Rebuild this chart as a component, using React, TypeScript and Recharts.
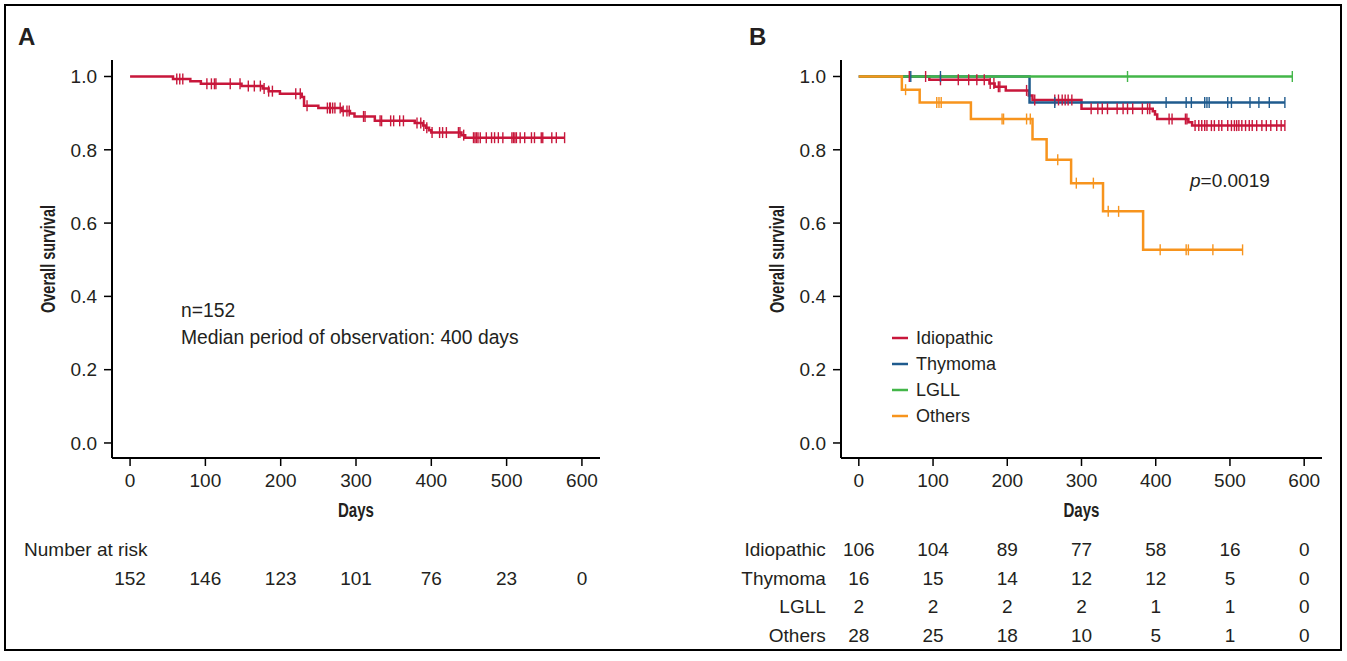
import React from 'react'
import { LineChart, Line, XAxis, YAxis, Legend, Label } from 'recharts'

const FONT = '"Liberation Sans", Arial, Helvetica, sans-serif'
const INK = '#231f20'

const dayTicks = [0, 100, 200, 300, 400, 500, 600]
const survivalTicks = [0, 0.2, 0.4, 0.6, 0.8, 1.0]

// Panel A: whole cohort, [day, survival after the event]
const cohortSteps = [
  [0, 1.0], [57, 0.993], [80, 0.987], [94, 0.98], [148, 0.974], [176, 0.967], [184, 0.96],
  [199, 0.953], [228, 0.944], [231, 0.92], [250, 0.914], [281, 0.906], [292, 0.899],
  [298, 0.891], [325, 0.879], [378, 0.873], [389, 0.866], [393, 0.86], [397, 0.853],
  [400, 0.847], [440, 0.84], [445, 0.833],
]
const cohortCensored = [
  62, 66, 70, 102, 108, 112, 114, 133, 146, 157, 165, 173, 178, 184, 189, 220, 226, 235,
  262, 265, 266, 269, 272, 279, 283, 288, 291, 310, 312, 332, 334, 346, 350, 358, 363,
  381, 386, 390, 394, 401, 411, 415, 420, 436, 438, 443, 456, 458, 460, 462, 465, 473,
  480, 484, 489, 495, 507, 509, 511, 513, 518, 524, 533, 537, 546, 548, 560, 566, 577,
]
const cohortAtRisk = [152, 146, 123, 101, 76, 23, 0]

// Panel B: by underlying disease
const groupNames = ['Idiopathic', 'Thymoma', 'LGLL', 'Others']
const groupColors = ['#c8173b', '#1f5b8e', '#43b649', '#f7941d']

const idiopathicSteps = [
  [0, 1.0], [95, 0.991], [176, 0.981], [183, 0.972], [198, 0.962], [229, 0.948], [234, 0.936],
  [300, 0.912], [396, 0.905], [399, 0.896], [402, 0.884], [444, 0.875], [449, 0.866],
]
const idiopathicCensored = [
  68, 90, 110, 134, 148, 159, 169, 177, 182, 188, 190, 226, 237, 264, 269, 274, 278, 282,
  287, 313, 322, 328, 335, 348, 356, 362, 369, 382, 389, 392, 418, 422, 440, 442, 453,
  458, 462, 466, 469, 475, 479, 485, 489, 497, 502, 506, 509, 512, 516, 521, 526, 530,
  536, 543, 549, 555, 563, 569, 574,
]
const thymomaSteps = [[0, 1.0], [230, 0.929]]
const thymomaCensored = [70, 110, 264, 414, 441, 448, 466, 469, 472, 497, 502, 527, 539, 553, 574]
const lgllSteps = [[0, 1.0]]
const lgllCensored = [362, 584]
const othersSteps = [
  [0, 1.0], [58, 0.964], [82, 0.929], [151, 0.884], [234, 0.829], [253, 0.773],
  [286, 0.709], [329, 0.632], [383, 0.527],
]
const othersCensored = [
  63, 105, 108, 111, 193, 195, 226, 231, 268, 293, 316, 336, 350, 406, 441, 444, 477, 517,
]

const idiopathicAtRisk = [106, 104, 89, 77, 58, 16, 0]
const thymomaAtRisk = [16, 15, 14, 12, 12, 5, 0]
const lgllAtRisk = [2, 2, 2, 2, 1, 1, 0]
const othersAtRisk = [28, 25, 18, 10, 5, 1, 0]

type Pt = { t: number; s: number; c: number }

// merge events and censoring times into one step series
const buildCurve = (steps: number[][], censored: number[]): Pt[] => {
  const pts: Pt[] = steps.map(([t, s]) => ({ t, s, c: 0 }))
  censored.forEach((t) => {
    const level = steps.filter(([st]) => st <= t).pop()![1]
    pts.push({ t, s: level, c: 1 })
  })
  return pts.sort((a, b) => a.t - b.t || a.c - b.c)
}

const riskRows = (counts: number[]) => dayTicks.map((t, i) => ({ t, n: counts[i] }))

const cohortCurve = buildCurve(cohortSteps, cohortCensored)
const groupCurves = [
  buildCurve(idiopathicSteps, idiopathicCensored),
  buildCurve(thymomaSteps, thymomaCensored),
  buildCurve(lgllSteps, lgllCensored),
  buildCurve(othersSteps, othersCensored),
]
const groupAtRisk = [idiopathicAtRisk, thymomaAtRisk, lgllAtRisk, othersAtRisk]

const DAY_DOMAIN: [number, number] = [-24, 624]
const SURV_DOMAIN: [number, number] = [-0.041, 1.045]

const censorMark = (color: string) => (props: any) => {
  const { cx, cy, payload, index } = props
  if (!payload || !payload.c) return <g key={`n-${index}`} />
  return (
    <line key={`c-${index}`} x1={cx} x2={cx} y1={cy - 5.5} y2={cy + 5.5} stroke={color} strokeWidth={1.4} />
  )
}

const riskTick = (counts: number[], rowLabel: string, labelDx: number, anchor: 'start' | 'end', dy: number, labelDy = dy) =>
  (props: any) => {
    const { x, y, payload } = props
    const i = dayTicks.indexOf(payload.value)
    return (
      <g fontFamily={FONT} fontSize={19} fill={INK}>
        {i === 0 && (
          <text x={x + labelDx} y={y + labelDy} textAnchor={anchor} fill={INK}>{rowLabel}</text>
        )}
        <text x={x} y={y + dy} textAnchor="middle" fill={INK}>{counts[i]}</text>
      </g>
    )
  }

const yTitle = (p: any) => {
  const vb = p.viewBox
  const cx = vb.x + 55
  const cy = vb.y + vb.height / 2
  return (
    <text
      transform={`translate(${cx},${cy}) rotate(-90)`}
      textAnchor="middle"
      fontFamily={FONT}
      fontWeight="bold"
      fontSize={19.5}
      fill={INK}
      textLength={108}
      lengthAdjust="spacingAndGlyphs"
    >
      Overall survival
    </text>
  )
}

const xTitle = (p: any) => {
  const vb = p.viewBox
  return (
    <text
      x={vb.x + vb.width / 2}
      y={vb.y + 59}
      textAnchor="middle"
      fontFamily={FONT}
      fontWeight="bold"
      fontSize={19.5}
      fill={INK}
      textLength={36}
      lengthAdjust="spacingAndGlyphs"
    >
      Days
    </text>
  )
}

const LegendRows = (props: any) => {
  const items = (props.payload || [])
    .filter((entry: any) => groupNames.includes(entry.value))
    .sort((a: any, b: any) => groupNames.indexOf(a.value) - groupNames.indexOf(b.value))
  return (
    <div>
      {items.map((entry: any) => (
        <div key={entry.value} style={{ display: 'flex', alignItems: 'center', height: 26 }}>
          <svg width={16} height={4}>
            <line x1={0} x2={16} y1={2} y2={2} stroke={entry.color} strokeWidth={2.5} />
          </svg>
          <span style={{ marginLeft: 8, fontSize: 18, fontFamily: FONT, color: INK }}>{entry.value}</span>
        </div>
      ))}
    </div>
  )
}

const axisLine = { stroke: '#000', strokeWidth: 2 }
const tickLine = { stroke: '#000', strokeWidth: 1.5 }
const tickText = { fill: INK, fontSize: 19, fontFamily: FONT }

const App: React.FC = () => {
  return (
    <div style={{ position: 'absolute', left: 0, top: 0, width: 1347, height: 661, background: '#fff' }}>
      {/* A: overall cohort */}
      <div style={{ position: 'absolute', left: 0, top: 0 }}>
        <LineChart width={640} height={661} margin={{ top: 60, right: 40, bottom: 0, left: 0 }}>
          <XAxis
            dataKey="t"
            type="number"
            domain={DAY_DOMAIN}
            ticks={dayTicks}
            interval={0}
            allowDataOverflow
            axisLine={axisLine}
            tickLine={tickLine}
            tickSize={8}
            tickMargin={8}
            tick={tickText}
            height={80}
          >
            <Label content={xTitle} />
          </XAxis>
          <XAxis
            xAxisId="riskA"
            dataKey="t"
            type="number"
            domain={DAY_DOMAIN}
            ticks={dayTicks}
            interval={0}
            allowDataOverflow
            axisLine={false}
            tickLine={false}
            tickSize={0}
            tickMargin={0}
            height={123}
            tick={riskTick(cohortAtRisk, 'Number at risk', -106, 'start', 47, 18)}
          />
          <YAxis
            type="number"
            domain={SURV_DOMAIN}
            ticks={survivalTicks}
            interval={0}
            allowDataOverflow
            tickFormatter={(v: number) => v.toFixed(1)}
            axisLine={axisLine}
            tickLine={tickLine}
            tickSize={8}
            tickMargin={7}
            tick={tickText}
            width={112}
          >
            <Label content={yTitle} />
          </YAxis>
          <Line
            data={cohortCurve}
            dataKey="s"
            type="stepAfter"
            stroke={groupColors[0]}
            strokeWidth={2.5}
            dot={censorMark(groupColors[0])}
            activeDot={false}
            isAnimationActive={false}
          />
          {/* invisible series that carries the number-at-risk axis */}
          <Line
            xAxisId="riskA"
            data={riskRows(cohortAtRisk)}
            dataKey="n"
            stroke="none"
            dot={false}
            activeDot={false}
            legendType="none"
            isAnimationActive={false}
          />
        </LineChart>
      </div>

      {/* B: by underlying disease */}
      <div style={{ position: 'absolute', left: 729, top: 0 }}>
        <LineChart width={618} height={661} margin={{ top: 60, right: 25, bottom: 8.2, left: 0 }}>
          <XAxis
            dataKey="t"
            type="number"
            domain={DAY_DOMAIN}
            ticks={dayTicks}
            interval={0}
            allowDataOverflow
            axisLine={axisLine}
            tickLine={tickLine}
            tickSize={8}
            tickMargin={8}
            tick={tickText}
            height={80}
          >
            <Label content={xTitle} />
          </XAxis>
          {groupNames.map((name, g) => (
            <XAxis
              key={name}
              xAxisId={`risk-${g}`}
              dataKey="t"
              type="number"
              domain={DAY_DOMAIN}
              ticks={dayTicks}
              interval={0}
              allowDataOverflow
              axisLine={false}
              tickLine={false}
              tickSize={0}
              tickMargin={0}
              height={28.7}
              tick={riskTick(groupAtRisk[g], name, -33, 'end', 18)}
            />
          ))}
          <YAxis
            type="number"
            domain={SURV_DOMAIN}
            ticks={survivalTicks}
            interval={0}
            allowDataOverflow
            tickFormatter={(v: number) => v.toFixed(1)}
            axisLine={axisLine}
            tickLine={tickLine}
            tickSize={8}
            tickMargin={7}
            tick={tickText}
            width={112}
          >
            <Label content={yTitle} />
          </YAxis>
          {groupNames.map((name, g) => (
            <Line
              key={name}
              name={name}
              data={groupCurves[g]}
              dataKey="s"
              type="stepAfter"
              stroke={groupColors[g]}
              strokeWidth={2.5}
              dot={censorMark(groupColors[g])}
              activeDot={false}
              legendType="plainline"
              isAnimationActive={false}
            />
          ))}
          {groupNames.map((name, g) => (
            <Line
              key={`risk-${name}`}
              xAxisId={`risk-${g}`}
              data={riskRows(groupAtRisk[g])}
              dataKey="n"
              stroke="none"
              dot={false}
              activeDot={false}
              legendType="none"
              isAnimationActive={false}
            />
          ))}
          <Legend
            layout="vertical"
            align="center"
            verticalAlign="middle"
            content={LegendRows}
            wrapperStyle={{ left: 163, top: 325, width: 130 }}
          />
        </LineChart>
      </div>

      {/* frame, panel letters and annotations */}
      <svg
        width={1347}
        height={661}
        style={{ position: 'absolute', left: 0, top: 0, pointerEvents: 'none' }}
        fontFamily={FONT}
        fill={INK}
      >
        <rect x={5} y={5} width={1336} height={645} fill="none" stroke="#000" strokeWidth={2} />
        <text x={18} y={45} fontSize={24} fontWeight="bold">A</text>
        <text x={749} y={45} fontSize={24} fontWeight="bold">B</text>
        <text x={181} y={317} fontSize={19.3}>n=152</text>
        <text x={181} y={344} fontSize={19.3}>Median period of observation: 400 days</text>
        <text x={1190} y={187} fontSize={19}>
          <tspan fontStyle="italic">p</tspan>=0.0019
        </text>
      </svg>
    </div>
  )
}

export default App
